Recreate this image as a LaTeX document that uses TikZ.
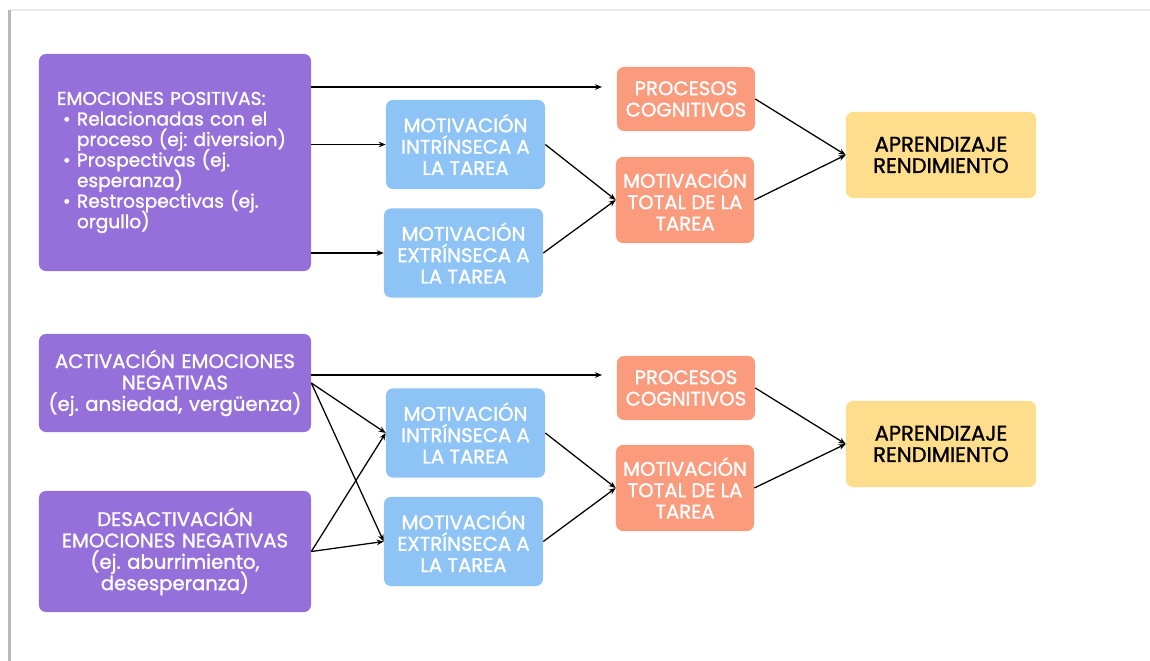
\documentclass[tikz,border=0pt]{standalone}
\usepackage{fontspec}
\setmainfont{Poppins}[FakeBold=1.3]
\usetikzlibrary{arrows.meta}
\frenchspacing

\definecolor{emopurple}{HTML}{9570DA}
\definecolor{motblue}{HTML}{8DC3F5}
\definecolor{cogorange}{HTML}{FA9B7E}
\definecolor{apryellow}{HTML}{FEDE8D}

\newcommand{\boxfont}[2]{\fontsize{#1}{#2}\selectfont\setlength{\lineskiplimit}{-10pt}}
\newcommand{\bul}{\makebox[0.5cm][l]{\hspace{0.15cm}\textbullet}}

\tikzset{
  box/.style={rounded corners=5pt, align=center, inner sep=2pt, font={\boxfont{14}{15.2}}},
  emobox/.style={box, fill=emopurple, text=white, minimum width=6.8cm, text width=6.6cm},
  motbox/.style={box, fill=motblue, text=white, minimum width=3.975cm, minimum height=2.225cm},
  cogbox/.style={box, fill=cogorange, text=white, minimum width=3.45cm},
  aprbox/.style={box, fill=apryellow, text=black, minimum width=4.75cm, minimum height=2.15cm,
    font={\boxfont{15}{15.2}}},
  arr/.style={-{Stealth[length=5pt,width=4pt]}, line width=0.9pt}
}

\begin{document}
\begin{tikzpicture}[x=0.025cm, y=-0.025cm]
  \useasboundingbox[fill=white] (0,0) rectangle (1150,661);
  \draw[black!8, line width=1pt] (10,10) -- (1150,10);
  \draw[black!28, line width=1.6pt] (9.5,10) -- (9.5,661);

  % positive emotions
  \node[emobox, minimum height=5.425cm, text width=5.9cm, align=left,
        font={\boxfont{13.2}{14.6}}] (pos) at (175,162.5)
    {EMOCIONES POSITIVAS:\\
     \bul Relacionadas con el\\
     \hspace*{0.5cm}\mbox{proceso (ej: diversion)}\\
     \bul Prospectivas (ej.\\
     \hspace*{0.5cm}esperanza)\\
     \bul Restrospectivas (ej.\\
     \hspace*{0.5cm}orgullo)};
  \node[motbox] (int1) at (465.5,144.5) {MOTIVACIÓN\\INTRÍNSECA A\\LA TAREA};
  \node[motbox] (ext1) at (463.5,253) {MOTIVACIÓN\\EXTRÍNSECA A\\LA TAREA};
  \node[cogbox, minimum height=1.6cm] (proc1) at (686,99) {PROCESOS\\COGNITIVOS};
  \node[cogbox, minimum height=2.15cm] (tot1) at (685,200) {MOTIVACIÓN\\TOTAL DE LA\\TAREA};
  \node[aprbox] (apr1) at (941,155) {APRENDIZAJE\\RENDIMIENTO};
  \coordinate (end1) at (602,87);

  \draw[arr] (pos.east |- end1) -- (end1);
  \draw[arr] (pos.east |- int1.west) -- (int1.west);
  \draw[arr] (pos.east |- ext1.west) -- (ext1.west);
  \draw[arr] (int1.east) -- (tot1.west);
  \draw[arr] (ext1.east) -- (tot1.west);
  \draw[arr] (proc1.east) -- (apr1.west);
  \draw[arr] (tot1.east) -- (apr1.west);

  % negative emotions
  \node[emobox, minimum height=2.45cm] (act) at (175,383)
    {ACTIVACIÓN EMOCIONES\\NEGATIVAS\\(ej. ansiedad, vergüenza)};
  \node[emobox, minimum height=3.025cm] (des) at (175,551.5)
    {DESACTIVACIÓN\\EMOCIONES NEGATIVAS\\(ej. aburrimiento,\\desesperanza)};
  \node[motbox] (int2) at (465.5,433) {MOTIVACIÓN\\INTRÍNSECA A\\LA TAREA};
  \node[motbox] (ext2) at (463.5,541.5) {MOTIVACIÓN\\EXTRÍNSECA A\\LA TAREA};
  \node[cogbox, minimum height=1.6cm] (proc2) at (686,388) {PROCESOS\\COGNITIVOS};
  \node[cogbox, minimum height=2.15cm] (tot2) at (685,488) {MOTIVACIÓN\\TOTAL DE LA\\TAREA};
  \node[aprbox] (apr2) at (941,444) {APRENDIZAJE\\RENDIMIENTO};
  \coordinate (end2) at (602,375);

  \draw[arr] (act.east |- end2) -- (end2);
  \draw[arr] (act.east) -- (int2.west);
  \draw[arr] (act.east) -- (ext2.west);
  \draw[arr] (des.east) -- (int2.west);
  \draw[arr] (des.east) -- (ext2.west);
  \draw[arr] (int2.east) -- (tot2.west);
  \draw[arr] (ext2.east) -- (tot2.west);
  \draw[arr] (proc2.east) -- (apr2.west);
  \draw[arr] (tot2.east) -- (apr2.west);
\end{tikzpicture}
\end{document}
